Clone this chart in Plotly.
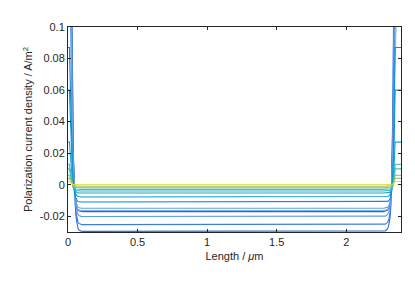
import numpy as np
import plotly.graph_objects as go

# ─── data ───
# shared boundary-layer shape (fraction of the way from bulk value to edge value)
left_x = [0, 0.01, 0.014, 0.018, 0.021, 0.024, 0.027, 0.03, 0.033, 0.036, 0.039, 0.042,
          0.045, 0.048, 0.051, 0.055, 0.059, 0.063, 0.067, 0.072, 0.078, 0.085, 0.095, 0.11]
left_f = [1, 1, 0.85, 0.7, 0.53, 0.4, 0.31, 0.25, 0.19, 0.15, 0.11, 0.085,
          0.065, 0.05, 0.038, 0.028, 0.019, 0.012, 0.007, 0.004, 0.002, 0.001, 0.0004, 0]
right_x = [2.27, 2.28, 2.29, 2.298, 2.305, 2.31, 2.315, 2.319, 2.322, 2.325, 2.328, 2.331,
           2.334, 2.337, 2.34, 2.343, 2.346, 2.349, 2.352, 2.394]
right_f = [0, 0.0008, 0.002, 0.004, 0.008, 0.013, 0.02, 0.03, 0.04, 0.058, 0.08, 0.11,
           0.15, 0.21, 0.3, 0.44, 0.6, 0.8, 1, 1]

# one curve per time step: value in the bulk and value at the electrodes
bulk = [-0.0296, -0.0253, -0.0202, -0.0171, -0.0164, -0.0149, -0.011, -0.0078,
        -0.0053, -0.004, -0.003, -0.0019, -0.001, 0.0]
edge = [0.40, 0.35, 0.30, 0.25, 0.20, 0.15, 0.087, 0.06,
        0.027, 0.013, 0.01, 0.006, 0.004, 0.002]
colors = ['#2c6ddb', '#3c7ee0', '#5d9de6', '#5a55b0', '#7eb2ea', '#5fa2e4', '#0d8cd8', '#0b9bd2',
          '#18a8cc', '#34b4c0', '#4cbab0', '#6cc0a0', '#a0c878', '#e6dc24']

x_ticks = [0, 0.5, 1, 1.5, 2]
y_ticks = [-0.02, 0, 0.02, 0.04, 0.06, 0.08, 0.1]

FONT = dict(family='Liberation Sans, Arial, sans-serif', size=11, color='#262626')

x_all = np.array(left_x + right_x)
f_all = np.array(left_f + right_f)

fig = go.Figure()
for b, e, c in zip(bulk, edge, colors):
    fig.add_trace(go.Scatter(
        x=x_all, y=b + (e - b) * f_all, mode='lines',
        line=dict(color=c, width=1.1),
        showlegend=False, hoverinfo='skip',
    ))

axis_common = dict(
    showline=True, linecolor='#262626', linewidth=1, mirror='ticks',
    ticks='inside', ticklen=3, tickcolor='#262626', tickwidth=1,
    showgrid=False, zeroline=False, tickfont=FONT, automargin=False,
)

fig.update_layout(
    width=415, height=302,
    paper_bgcolor='white', plot_bgcolor='white',
    margin=dict(l=68, r=14, t=27, b=70),
    font=FONT,
    xaxis=dict(range=[0, 2.394], tickvals=x_ticks, ticktext=['0', '0.5', '1', '1.5', '2'],
               title=dict(text='Length / <i>μ</i>m', font=FONT, standoff=5),
               **axis_common),
    yaxis=dict(range=[-0.03, 0.1], tickvals=y_ticks,
               ticktext=['-0.02', '0', '0.02', '0.04', '0.06', '0.08', '0.1'],
               title=dict(text='Polarization current density / A/m<sup>2</sup>', font=FONT, standoff=4),
               **axis_common),
)

fig.write_html("out.html", config={'displayModeBar': False},
               post_script="document.body.style.margin='0px';")
